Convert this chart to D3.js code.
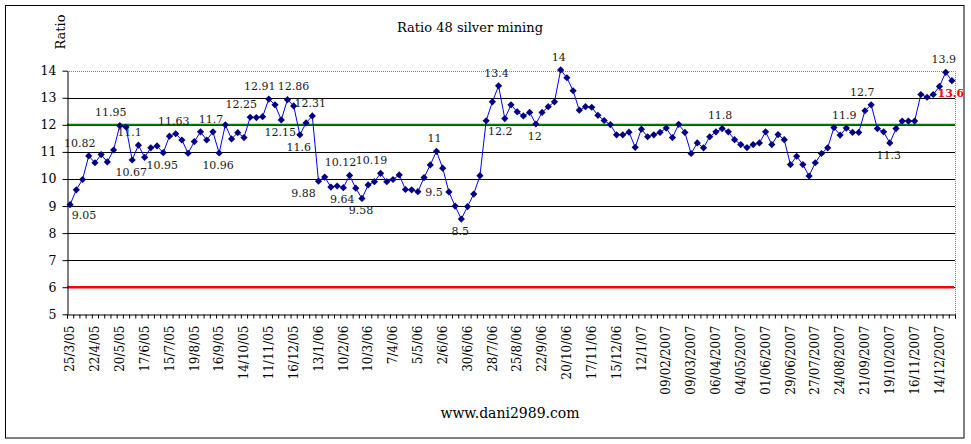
<!DOCTYPE html>
<html>
<head>
<meta charset="utf-8">
<script src="https://cdn.jsdelivr.net/npm/d3@7"></script>
<style>
body { margin: 0; background: #fff; }
svg text { font-family: "DejaVu Serif", serif; }
</style>
</head>
<body>
<div id="chart"></div>
<script>
// weekly ratio readings, 25/3/05 .. late 12/2007
const ratio = [
    9.05, 9.6, 9.98, 10.85, 10.6, 10.9, 10.63, 11.07, 11.97, 11.92,
    10.7, 11.25, 10.8, 11.15, 11.22, 10.97, 11.58, 11.67, 11.44, 10.95,
    11.38, 11.74, 11.44, 11.74, 10.96, 12.0, 11.48, 11.71, 11.53, 12.28,
    12.27, 12.3, 12.95, 12.74, 12.18, 12.93, 12.7, 11.63, 12.07, 12.33,
    9.92, 10.07, 9.7, 9.74, 9.68, 10.13, 9.66, 9.28, 9.78, 9.9,
    10.21, 9.9, 9.98, 10.15, 9.61, 9.6, 9.53, 10.05, 10.52, 11.02,
    10.4, 9.52, 9.0, 8.52, 8.98, 9.44, 10.12, 12.15, 12.85, 13.44,
    12.23, 12.74, 12.48, 12.33, 12.46, 12.03, 12.46, 12.67, 12.85, 14.03,
    13.74, 13.26, 12.54, 12.67, 12.65, 12.35, 12.16, 12.01, 11.63, 11.63,
    11.73, 11.17, 11.84, 11.56, 11.63, 11.72, 11.88, 11.53, 12.02, 11.72,
    10.94, 11.33, 11.15, 11.56, 11.74, 11.86, 11.74, 11.45, 11.27, 11.16,
    11.27, 11.33, 11.74, 11.27, 11.64, 11.45, 10.53, 10.84, 10.53, 10.11,
    10.6, 10.94, 11.15, 11.9, 11.62, 11.88, 11.72, 11.72, 12.52, 12.74,
    11.86, 11.74, 11.33, 11.86, 12.14, 12.14, 12.14, 13.12, 13.02, 13.12,
    13.42, 13.94, 13.63
];

// one label every 4 weeks
const dateLabels = [
    "25/3/05", "22/4/05", "20/5/05", "17/6/05", "15/7/05", "19/8/05",
    "16/9/05", "14/10/05", "11/11/05", "16/12/05", "13/1/06", "10/2/06",
    "10/3/06", "7/4/06", "5/5/06", "2/6/06", "30/6/06", "28/7/06",
    "25/8/06", "22/9/06", "20/10/06", "17/11/06", "15/12/06", "12/1/07",
    "09/02/2007", "09/03/2007", "06/04/2007", "04/05/2007", "01/06/2007", "29/06/2007",
    "27/07/2007", "24/08/2007", "21/09/2007", "19/10/2007", "16/11/2007", "14/12/2007"
];
const labelStep = 4;

const yTicks = [5, 6, 7, 8, 9, 10, 11, 12, 13, 14];
const upperLevel = 12;
const lowerLevel = 6;

// data labels: point index, text, where it sits
const noteIndex = [0, 3, 8, 11, 10, 15, 17, 23, 24, 29, 32, 34, 35, 37, 39, 40, 44, 45, 47, 50,
    59, 61, 63, 67, 69, 75, 79, 105, 125, 129, 132, 141, 142];
const noteText = ["9.05", "10.82", "11.95", "11.1", "10.67", "10.95", "11.63", "11.7", "10.96", "12.25",
    "12.91", "12.15", "12.86", "11.6", "12.31", "9.88", "9.64", "10.12", "9.58", "10.19",
    "11", "9.5", "8.5", "12.2", "13.4", "12", "14", "11.8", "11.9", "12.7", "11.3", "13.9", "13.6"];
const notePlace = ["br", "al", "al", "al", "b", "b", "a", "a", "b", "al",
    "al", "b", "ar", "b", "a", "bl", "b", "al", "b", "al",
    "a", "l", "b", "br", "a", "b", "a", "a", "a", "al", "b", "a", "b"];
const lastIndex = ratio.length - 1;

const width = 971, height = 444;
const plot = { left: 67, right: 955, top: 70.7, bottom: 314.3 };

const svg = d3.select("#chart").append("svg")
    .attr("width", width).attr("height", height);

// outer frame
svg.append("rect")
    .attr("x", 5.5).attr("y", 5.5)
    .attr("width", 958.5).attr("height", 432.5)
    .attr("fill", "#fff").attr("stroke", "#000");

const idx = d3.range(ratio.length);
const x = d3.scaleBand().domain(idx).range([plot.left, plot.right]).padding(0);
const xEdge = d3.scaleLinear().domain([0, ratio.length]).range([plot.left, plot.right]);
const y = d3.scaleLinear().domain([5, 14]).range([plot.bottom, plot.top]);
const cx = i => x(i) + x.bandwidth() / 2;
const crisp = v => Math.round(v) + 0.5;

// gridlines
svg.append("g").selectAll("line")
    .data(yTicks.filter(t => t > 5 && t < 14))
    .join("line")
    .attr("x1", plot.left).attr("x2", plot.right)
    .attr("y1", d => crisp(y(d))).attr("y2", d => crisp(y(d)))
    .attr("stroke", "#000");

// dotted top / right edge of plot area
svg.append("path")
    .attr("d", `M${plot.left},${crisp(y(14))}H${crisp(plot.right)}V${crisp(y(5))}`)
    .attr("fill", "none").attr("stroke", "#808080").attr("stroke-dasharray", "1,1");

svg.append("line")
    .attr("x1", plot.left).attr("x2", plot.right - 1)
    .attr("y1", y(lowerLevel)).attr("y2", y(lowerLevel))
    .attr("stroke", "#ff0000").attr("stroke-width", 2.5);

svg.append("line")
    .attr("x1", plot.left).attr("x2", plot.right)
    .attr("y1", y(upperLevel)).attr("y2", y(upperLevel))
    .attr("stroke", "#008000").attr("stroke-width", 2);

// y axis
const yAxis = svg.append("g")
    .attr("transform", `translate(${crisp(plot.left)},0)`)
    .call(d3.axisLeft(y).tickValues(yTicks).tickSize(5).tickSizeOuter(0));
yAxis.select(".domain").attr("stroke", "#000");
yAxis.selectAll(".tick line").attr("stroke", "#000");
yAxis.selectAll(".tick text")
    .attr("x", -11)
    .style("font-family", "DejaVu Serif").style("font-size", "12.5px").attr("fill", "#000");

// x axis: a tick at every category edge
const xAxis = svg.append("g")
    .attr("transform", `translate(0,${crisp(plot.bottom)})`)
    .call(d3.axisBottom(xEdge).tickValues(d3.range(ratio.length + 1)).tickSize(4).tickFormat(""));
xAxis.select(".domain").attr("stroke", "#000");
xAxis.selectAll(".tick line").attr("stroke", "#000");

// date labels, rotated
const labelIdx = dateLabels.map((d, k) => k * labelStep);
const xLab = svg.append("g")
    .attr("transform", `translate(0,${crisp(plot.bottom)})`)
    .call(d3.axisBottom(x).tickValues(labelIdx).tickSize(0)
        .tickFormat(i => dateLabels[i / labelStep]));
xLab.select(".domain").remove();
xLab.selectAll(".tick text")
    .attr("transform", "rotate(-90)")
    .attr("x", -11).attr("y", 0).attr("dy", "0.35em")
    .attr("text-anchor", "end")
    .style("font-family", "DejaVu Serif").style("font-size", "12px").attr("fill", "#000");

// series
const line = d3.line().x((d, i) => cx(i)).y(d => y(d));
svg.append("path")
    .datum(ratio)
    .attr("d", line)
    .attr("fill", "none").attr("stroke", "#0000ff").attr("stroke-width", 1);

svg.append("g").selectAll("path")
    .data(ratio)
    .join("path")
    .attr("d", "M0,-3.6L3.6,0L0,3.6L-3.6,0Z")
    .attr("transform", (d, i) => `translate(${cx(i)},${y(d)})`)
    .attr("fill", "#000080");

// data labels
const offsets = {
    a: [-2, -13], al: [-9, -13], ar: [6, -14],
    b: [-1, 12], bl: [-15, 12], br: [14, 10], l: [-15, 0]
};
svg.append("g").selectAll("text")
    .data(noteIndex)
    .join("text")
    .attr("x", (d, k) => cx(d) + offsets[notePlace[k]][0])
    .attr("y", (d, k) => y(ratio[d]) + offsets[notePlace[k]][1])
    .attr("dy", "0.35em")
    .attr("text-anchor", "middle")
    .style("font-size", "11px")
    .style("font-weight", d => d === lastIndex ? "bold" : "normal")
    .attr("fill", d => d === lastIndex ? "#ff0000" : "#1a1a1a")
    .text((d, k) => noteText[k]);

// titles
svg.append("text")
    .attr("x", 470).attr("y", 32)
    .attr("text-anchor", "middle")
    .style("font-size", "13px")
    .text("Ratio 48 silver mining");

svg.append("text")
    .attr("transform", "translate(65,32) rotate(-90)")
    .attr("text-anchor", "middle")
    .style("font-size", "13px")
    .text("Ratio");

svg.append("text")
    .attr("x", 510).attr("y", 418)
    .attr("text-anchor", "middle")
    .style("font-size", "14px")
    .text("www.dani2989.com");
</script>
</body>
</html>
